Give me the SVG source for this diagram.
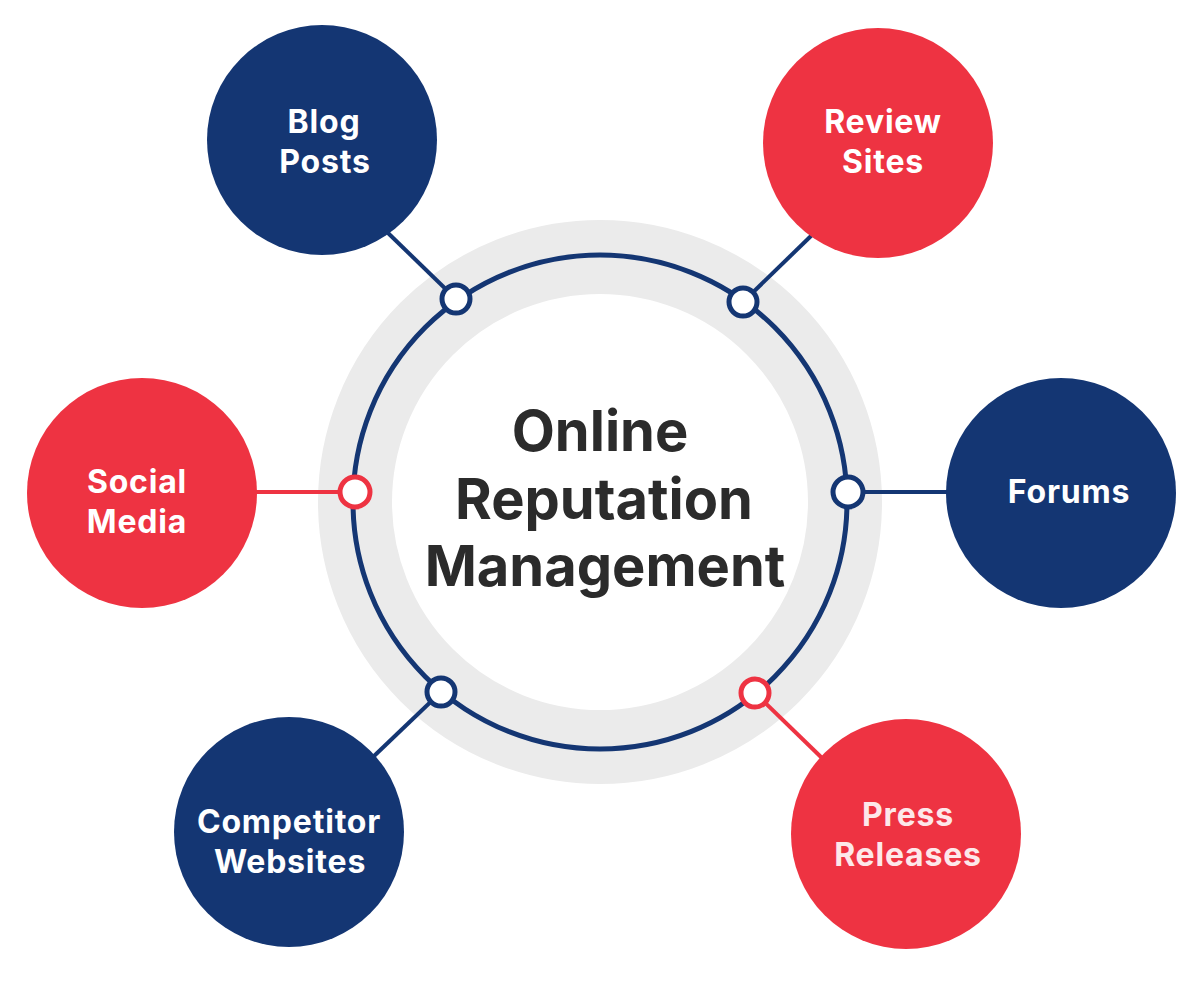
<svg xmlns="http://www.w3.org/2000/svg" width="1196" height="986" viewBox="0 0 1196 986">
<style>
.navy{fill:#143673}
.red{fill:#EE3342}
.lbl{font-family:Inter,"Liberation Sans",sans-serif;font-weight:700;font-size:32px;letter-spacing:0.8px;fill:#ffffff;text-anchor:middle}
.pink{fill:#FDE8EA}
.ctr{font-family:Inter,"Liberation Sans",sans-serif;font-weight:700;font-size:56px;fill:#2b2b2b;text-anchor:middle}
.ln{stroke-width:4;fill:none}
.dot{fill:#ffffff;stroke-width:5}
</style>
<rect width="1196" height="986" fill="#ffffff"/>
<g id="center">
<circle cx="600" cy="502" r="245" fill="none" stroke="#EBEBEB" stroke-width="74"/>
<circle cx="600" cy="502" r="247" fill="none" stroke="#143673" stroke-width="5"/>
<text class="ctr" x="600" y="451">Online</text>
<text class="ctr" x="604" y="519">Reputation</text>
<text class="ctr" x="605" y="586">Management</text>
</g>
<g id="connectors">
<line class="ln" x1="388" y1="233" x2="456" y2="299" stroke="#143673"/>
<line class="ln" x1="812" y1="235" x2="743" y2="302" stroke="#143673"/>
<line class="ln" x1="255" y1="492" x2="355" y2="492" stroke="#EE3342"/>
<line class="ln" x1="848" y1="492" x2="948" y2="492" stroke="#143673"/>
<line class="ln" x1="373" y1="757" x2="441" y2="692" stroke="#143673"/>
<line class="ln" x1="755" y1="693" x2="822" y2="758" stroke="#EE3342"/>
<circle class="dot" cx="456" cy="299" r="14" stroke="#143673"/>
<circle class="dot" cx="743" cy="302" r="14" stroke="#143673"/>
<circle class="dot" cx="355" cy="492" r="15" stroke="#EE3342"/>
<circle class="dot" cx="848" cy="492" r="15" stroke="#143673"/>
<circle class="dot" cx="441" cy="692" r="14" stroke="#143673"/>
<circle class="dot" cx="755" cy="693" r="14" stroke="#EE3342"/>
</g>
<g id="blog-posts">
<circle class="navy" cx="322" cy="140" r="115"/>
<text class="lbl" x="324" y="133">Blog</text>
<text class="lbl" x="325" y="173">Posts</text>
</g>
<g id="review-sites">
<circle class="red" cx="878" cy="143" r="115"/>
<text class="lbl" x="883" y="133">Review</text>
<text class="lbl" x="883" y="173">Sites</text>
</g>
<g id="social-media">
<circle class="red" cx="142" cy="493" r="115"/>
<text class="lbl" x="137" y="493">Social</text>
<text class="lbl" x="137" y="533">Media</text>
</g>
<g id="forums">
<circle class="navy" cx="1061" cy="493" r="115"/>
<text class="lbl" x="1069" y="503">Forums</text>
</g>
<g id="competitor-websites">
<circle class="navy" cx="289" cy="832" r="115"/>
<text class="lbl" x="289" y="833">Competitor</text>
<text class="lbl" x="290" y="873">Websites</text>
</g>
<g id="press-releases">
<circle class="red" cx="906" cy="834" r="115"/>
<text class="lbl pink" x="908" y="826">Press</text>
<text class="lbl pink" x="908" y="866">Releases</text>
</g>
</svg>
